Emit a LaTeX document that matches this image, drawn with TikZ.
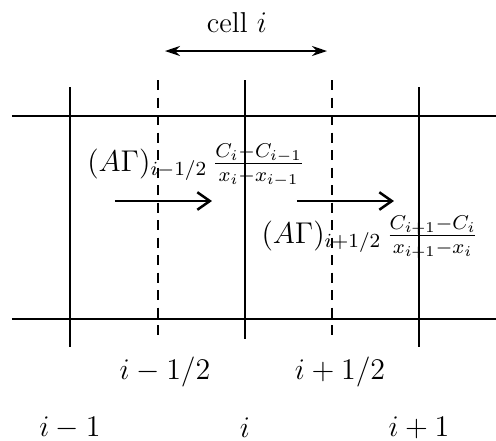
\documentclass[tikz,border=0pt]{standalone}
\usetikzlibrary{arrows.meta}
\begin{document}
\begin{tikzpicture}[x=0.4pt,y=-0.4pt,line cap=butt,line join=miter,semithick,font=\fontsize{11.5}{14}\selectfont]
            \tikzset{gridline/.style={line width=0.7pt},
                    face/.style={dashed,dash pattern=on 4pt off 3pt,line width=0.7pt},
                    flux/.style={line width=1pt,-{Straight Barb[length=5pt,width=7pt]}},
                    lbl/.style={inner sep=1pt}
            }
            \useasboundingbox (0,0) rectangle (496,441);
            % grid lines
            \draw[gridline] (12,116)--(496,116) (12,319)--(496,319);
            \draw[gridline] (70,87)--(70,347) (245,80)--(245,339) (419,87)--(419,347);
            \draw[face] (158,80)--(158,340) (332,80)--(332,340);
            % cell width
            \node[lbl] (cell) at (237,23) {cell $i$};
            \coordinate (cl) at (165,51);
            \coordinate (cr) at (327,51);
            \draw[{Stealth[length=6pt,width=4pt]}-{Stealth[length=6pt,width=4pt]}] (cl)--(cr);
            % fluxes
            \node[lbl] (fw) at (196,165) {$(A\Gamma)_{i-1/2}\,\frac{C_i-C_{i-1}}{x_i-x_{i-1}}$};
            \node[lbl] (fe) at (370,237) {$(A\Gamma)_{i+1/2}\,\frac{C_{i+1}-C_i}{x_{i+1}-x_i}$};
            \coordinate (wa) at (115,201);
            \coordinate (wb) at (212,201);
            \coordinate (ea) at (297,201);
            \coordinate (eb) at (394,201);
            \draw[flux] (wa)--(wb);
            \draw[flux] (ea)--(eb);
            % indices
            \node[lbl] (hm) at (165,372) {$i-1/2$};
            \node[lbl] (hp) at (340,372) {$i+1/2$};
            \node[lbl] (im) at (70,428) {$i-1$};
            \node[lbl] (ic) at (245,428) {$i$};
            \node[lbl] (ip) at (419,428) {$i+1$};
\end{tikzpicture}
\end{document}
